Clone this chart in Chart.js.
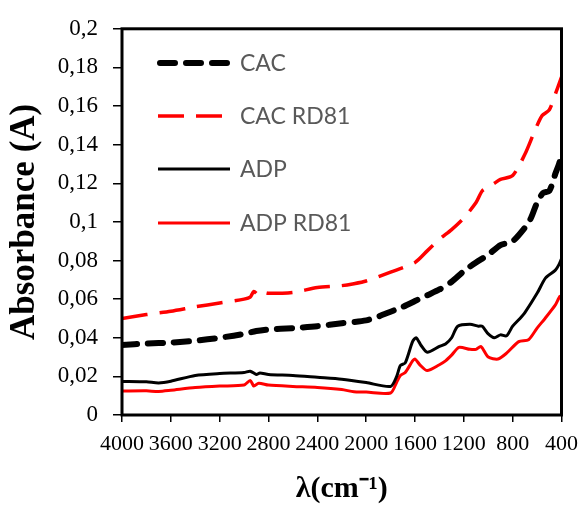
<!DOCTYPE html>
<html>
<head>
<meta charset="utf-8">
<script src="https://cdn.jsdelivr.net/npm/chart.js@4.4.0/dist/chart.umd.min.js"></script>
<style>
  html, body { margin: 0; padding: 0; background: #fff; }
  #chart { display: block; }
</style>
</head>
<body>
<canvas id="chart" width="587" height="507"></canvas>
<script>
// wavenumbers (cm-1) and absorbance
const cacX = [4000, 3800, 3600, 3400, 3200, 3000, 2900, 2800, 2600, 2400, 2200, 2000, 1900, 1800, 1700, 1600, 1500, 1400, 1300, 1200, 1100, 1000, 900, 800, 700, 650, 600, 550, 500, 450, 420, 400];
const cacY = [0.0363, 0.037, 0.0375, 0.0385, 0.040, 0.042, 0.0435, 0.0443, 0.045, 0.046, 0.0475, 0.049, 0.051, 0.0535, 0.056, 0.059, 0.062, 0.065, 0.069, 0.0745, 0.079, 0.083, 0.088, 0.090, 0.097, 0.102, 0.110, 0.115, 0.116, 0.125, 0.130, 0.135];

const cacRdX = [4000, 3800, 3600, 3400, 3200, 3000, 2950, 2920, 2880, 2850, 2800, 2600, 2400, 2200, 2100, 2000, 1800, 1600, 1500, 1400, 1300, 1200, 1100, 1050, 1000, 950, 900, 800, 700, 620, 560, 500, 440, 400];
const cacRdY = [0.050, 0.052, 0.0537, 0.056, 0.058, 0.060, 0.061, 0.064, 0.062, 0.0635, 0.063, 0.0635, 0.066, 0.067, 0.068, 0.0694, 0.074, 0.079, 0.085, 0.091, 0.096, 0.102, 0.110, 0.116, 0.118, 0.120, 0.122, 0.124, 0.135, 0.147, 0.155, 0.158, 0.168, 0.175];

const adpX = [4000, 3800, 3700, 3600, 3400, 3200, 3000, 2950, 2900, 2870, 2800, 2600, 2400, 2200, 2000, 1800, 1750, 1720, 1680, 1620, 1590, 1550, 1500, 1400, 1350, 1300, 1250, 1150, 1080, 1050, 1000, 950, 900, 850, 800, 740, 700, 600, 530, 450, 420, 400];
const adpY = [0.0174, 0.0172, 0.0166, 0.0175, 0.0205, 0.0215, 0.022, 0.0227, 0.021, 0.0218, 0.021, 0.0205, 0.0195, 0.0185, 0.0168, 0.0148, 0.020, 0.0256, 0.027, 0.038, 0.040, 0.036, 0.0325, 0.0355, 0.0368, 0.040, 0.046, 0.047, 0.046, 0.046, 0.042, 0.040, 0.0415, 0.041, 0.046, 0.050, 0.053, 0.063, 0.071, 0.075, 0.078, 0.081];

const adpRdX = [4000, 3800, 3700, 3600, 3400, 3200, 3000, 2950, 2920, 2880, 2800, 2600, 2400, 2200, 2100, 2000, 1800, 1750, 1720, 1680, 1620, 1600, 1560, 1500, 1400, 1350, 1300, 1240, 1150, 1100, 1060, 1000, 920, 850, 750, 670, 600, 535, 450, 413, 400];
const adpRdY = [0.0124, 0.0125, 0.0122, 0.0128, 0.0142, 0.015, 0.0155, 0.0179, 0.015, 0.0165, 0.0155, 0.0148, 0.0143, 0.0132, 0.012, 0.0119, 0.0114, 0.017, 0.0205, 0.022, 0.028, 0.029, 0.026, 0.023, 0.026, 0.028, 0.031, 0.035, 0.034, 0.034, 0.0355, 0.030, 0.029, 0.032, 0.038, 0.039, 0.045, 0.050, 0.057, 0.0614, 0.060];

const seriesNames = ['CAC', 'CAC RD81', 'ADP', 'ADP RD81'];
const xTicks = [4000, 3600, 3200, 2800, 2400, 2000, 1600, 1200, 800, 400];

const toPoints = (xs, ys) => xs.map((x, i) => ({ x: x, y: ys[i] }));

// legend sits inside the plot, drawn by hand
const insideLegend = {
    id: 'insideLegend',
    afterDatasetsDraw(chart) {
        const ctx = chart.ctx;
        const rows = [63, 116, 169, 223];
        chart.data.datasets.forEach((ds, i) => {
            const y = rows[i];
            ctx.save();
            ctx.strokeStyle = ds.borderColor;
            ctx.lineWidth = ds.borderWidth;
            ctx.lineCap = ds.borderCapStyle || 'butt';
            ctx.setLineDash(ds.borderDash || []);
            ctx.beginPath();
            ctx.moveTo(i === 0 ? 160 : 158, y);
            ctx.lineTo(i === 0 ? 228 : 230, y);
            ctx.stroke();
            ctx.setLineDash([]);
            ctx.fillStyle = '#595959';
            ctx.font = '23px Lato';
            ctx.textBaseline = 'middle';
            ctx.fillText(ds.label, 240, y + 1);
            ctx.restore();
        });
    }
};

const plotFrame = {
    id: 'plotFrame',
    afterDatasetsDraw(chart) {
        const a = chart.chartArea;
        const ctx = chart.ctx;
        ctx.save();
        ctx.strokeStyle = '#000';
        ctx.lineWidth = 3;
        ctx.strokeRect(a.left, a.top, a.right - a.left, a.bottom - a.top);
        ctx.restore();
    }
};

new Chart(document.getElementById('chart'), {
    type: 'line',
    data: {
        datasets: [
            { label: seriesNames[0], data: toPoints(cacX, cacY), borderColor: '#000', borderWidth: 6, borderDash: [15, 11], borderCapStyle: 'round', pointRadius: 0, tension: 0.25 },
            { label: seriesNames[1], data: toPoints(cacRdX, cacRdY), borderColor: '#ff0000', borderWidth: 3.5, borderDash: [26, 12], pointRadius: 0, tension: 0.25 },
            { label: seriesNames[2], data: toPoints(adpX, adpY), borderColor: '#000', borderWidth: 3, pointRadius: 0, tension: 0.25 },
            { label: seriesNames[3], data: toPoints(adpRdX, adpRdY), borderColor: '#ff0000', borderWidth: 3, pointRadius: 0, tension: 0.25 }
        ]
    },
    options: {
        responsive: false,
        animation: false,
        devicePixelRatio: 1,
        layout: { padding: { top: 24, right: 24, left: 0, bottom: 0 } },
        plugins: { legend: { display: false }, tooltip: { enabled: false } },
        scales: {
            x: {
                type: 'linear',
                reverse: true,
                min: 400,
                max: 4000,
                afterBuildTicks: s => { s.ticks = xTicks.map(v => ({ value: v })); },
                afterFit: s => { s.height = 92; },
                grid: { drawOnChartArea: false, drawTicks: true, tickLength: 7, color: '#000', lineWidth: 1.5 },
                border: { display: false },
                ticks: {
                    color: '#000',
                    font: { family: 'Liberation Serif', size: 22 },
                    padding: 9,
                    maxRotation: 0,
                    autoSkip: false,
                    callback: v => String(v)
                },
                title: {
                    display: true,
                    text: 'λ(cm⁻¹)',
                    color: '#000',
                    font: { family: 'Liberation Serif', size: 30, weight: 'bold' },
                    padding: { top: 0, bottom: 0 }
                }
            },
            y: {
                min: 0,
                max: 0.2,
                afterFit: s => { s.width = 122; },
                grid: { drawOnChartArea: false, drawTicks: true, tickLength: 9, color: '#000', lineWidth: 1.5 },
                border: { display: false },
                ticks: {
                    stepSize: 0.02,
                    color: '#000',
                    font: { family: 'Liberation Serif', size: 23 },
                    padding: 15,
                    callback: v => String(+v.toFixed(2)).replace('.', ',')
                },
                title: {
                    display: true,
                    text: 'Absorbance (A)',
                    color: '#000',
                    font: { family: 'Liberation Serif', size: 35, weight: 'bold' },
                    padding: { top: 4, bottom: 0 }
                }
            }
        }
    },
    plugins: [plotFrame, insideLegend]
});
</script>
</body>
</html>
